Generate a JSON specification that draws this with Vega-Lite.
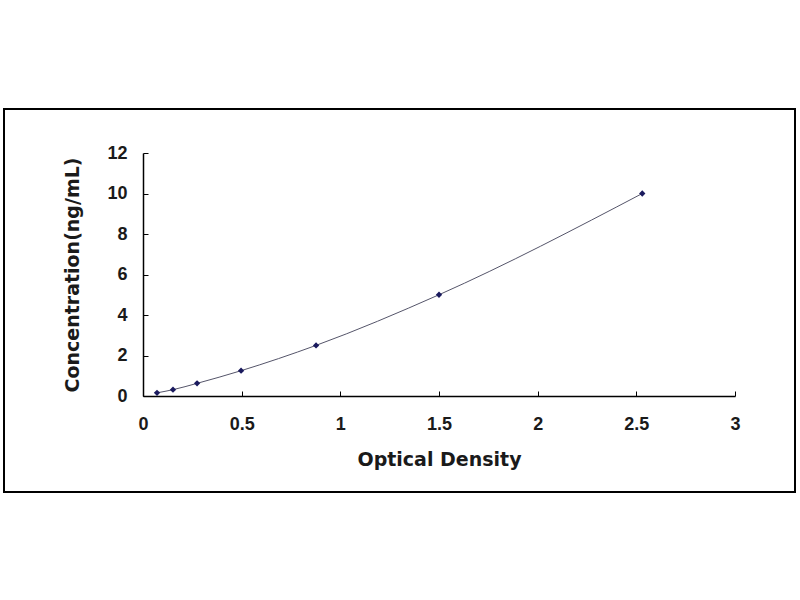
{
  "$schema": "https://vega.github.io/schema/vega-lite/v6.json",
  "autosize": "none",
  "padding": {"left": 4, "top": 109, "right": 5, "bottom": 108},
  "width": 791,
  "height": 383,
  "background": "white",
  "config": {
    "view": {"stroke": "black", "strokeWidth": 2},
    "axis": {
      "grid": false,
      "domainColor": "black",
      "domainWidth": 1.5,
      "tickColor": "black",
      "tickSize": -5,
      "labelFont": "Liberation Sans",
      "labelFontWeight": "bold",
      "labelFontSize": 18,
      "labelColor": "#1a1a1a",
      "titleFont": "DejaVu Sans",
      "titleFontWeight": "bold",
      "titleFontSize": 19,
      "titleColor": "#1a1a1a"
    }
  },
  "data": {
    "values": [
      {"od": 0.071, "conc": 0.156},
      {"od": 0.152, "conc": 0.312},
      {"od": 0.274, "conc": 0.625},
      {"od": 0.497, "conc": 1.25},
      {"od": 0.877, "conc": 2.5},
      {"od": 1.5, "conc": 5},
      {"od": 2.53, "conc": 10}
    ]
  },
  "encoding": {
    "x": {
      "field": "od",
      "type": "quantitative",
      "title": "Optical Density",
      "scale": {"domain": [0, 3], "range": [139, 731], "nice": false, "zero": false},
      "axis": {"values": [0, 0.5, 1, 1.5, 2, 2.5, 3], "format": "~g", "offset": -96, "labelPadding": 24, "titlePadding": 17, "labelFlush": false}
    },
    "y": {
      "field": "conc",
      "type": "quantitative",
      "title": "Concentration(ng/mL)",
      "scale": {"domain": [0, 12], "range": [287, 44], "nice": false, "zero": false},
      "axis": {"values": [0, 2, 4, 6, 8, 10, 12], "offset": -139, "labelPadding": 21, "titlePadding": 24, "labelFlush": false}
    }
  },
  "layer": [
    {
      "mark": {"type": "line", "interpolate": "monotone", "color": "#55556a", "strokeWidth": 1}
    },
    {
      "mark": {"type": "point", "shape": "diamond", "filled": true, "color": "#1a1a5e", "size": 40, "opacity": 1}
    }
  ]
}
